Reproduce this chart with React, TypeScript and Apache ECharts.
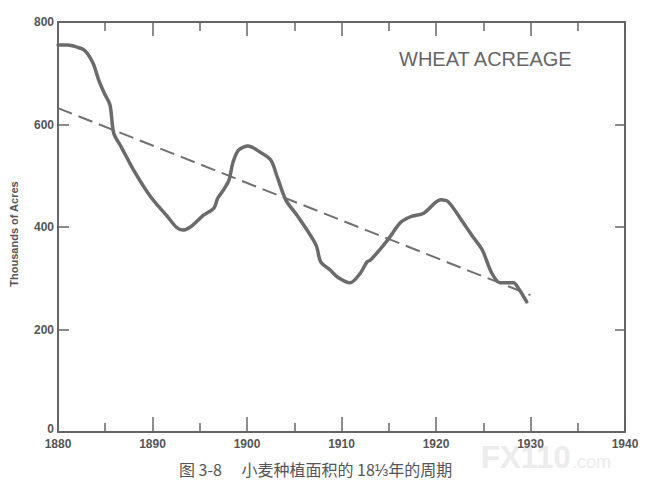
import React, { useEffect, useRef } from "react";
import * as echarts from "echarts";

const years: number[] = [
  1880.0, 1881.0, 1882.0, 1882.8, 1883.7, 1884.3, 1884.9, 1885.5, 1885.9, 1886.7,
  1888.0, 1889.8, 1891.6, 1892.5, 1893.2, 1894.0, 1895.4, 1896.5, 1896.9, 1897.5,
  1898.1, 1898.5, 1899.1, 1900.1, 1901.4, 1902.5, 1903.2, 1904.1, 1905.4, 1907.3,
  1907.8, 1908.8, 1909.6, 1910.9, 1912.0, 1912.7, 1913.1, 1914.9, 1916.2, 1917.3,
  1918.7, 1920.5, 1921.3, 1922.9, 1923.9, 1924.9, 1925.9, 1926.8, 1928.2, 1928.7,
  1929.6,
];
const acreage: number[] = [
  755, 755, 751, 745, 720, 687, 661, 638, 583, 556,
  511, 459, 420, 400, 394, 400, 423, 437, 456, 472,
  492, 525, 550, 558, 546, 531, 498, 453, 420, 365,
  332, 316, 302, 291, 310, 332, 336, 375, 408, 420,
  427, 453, 449, 408, 381, 355, 310, 291, 291, 281,
  254,
];
const trendYears: number[] = [1880, 1930];
const trendValues: number[] = [632, 267];

const titleText = "WHEAT ACREAGE";
const yAxisName = "Thousands of Acres";
const caption = "图 3-8　 小麦种植面积的 18⅓年的周期";
const watermarkMain = "FX110";
const watermarkTail = ".com";

export default function App() {
  const ref = useRef<HTMLDivElement | null>(null);
  useEffect(() => {
    if (!ref.current) return;
    const chart = echarts.init(ref.current, undefined, { renderer: "svg" });
    const axisColor = "#666";
    const font = "'Liberation Sans', Arial, sans-serif";
    const labelStyle = {
      color: "#555",
      fontWeight: "bold" as const,
      fontSize: 12,
      fontFamily: font,
    };
    chart.setOption({
      animation: false,
      backgroundColor: "#fff",
      grid: { left: 57, right: 23, top: 22, bottom: 70 },
      title: {
        text: titleText,
        left: 399,
        top: 49,
        padding: 0,
        textStyle: {
          color: "#666",
          fontSize: 20,
          fontWeight: "normal",
          fontFamily: font,
        },
      },
      xAxis: [
        {
          type: "value",
          position: "bottom",
          min: 1880,
          max: 1940,
          interval: 10,
          axisLine: { show: true, onZero: false, lineStyle: { color: axisColor, width: 2 } },
          axisTick: { show: true, inside: true, length: 15, lineStyle: { color: axisColor, width: 1.5 } },
          minorTick: { show: true, splitNumber: 2, length: 9, lineStyle: { color: axisColor, width: 1.5 } },
          axisLabel: { ...labelStyle, margin: 6, formatter: (v: number) => String(v) },
          splitLine: { show: false },
        },
        {
          type: "value",
          position: "top",
          min: 1880,
          max: 1940,
          interval: 10,
          axisLine: { show: true, onZero: false, lineStyle: { color: axisColor, width: 2 } },
          axisTick: { show: true, inside: true, length: 14, lineStyle: { color: axisColor, width: 1.5 } },
          minorTick: { show: true, splitNumber: 2, length: 9, lineStyle: { color: axisColor, width: 1.5 } },
          axisLabel: { show: false },
          splitLine: { show: false },
        },
      ],
      yAxis: [
        {
          type: "value",
          position: "left",
          min: 0,
          max: 800,
          interval: 200,
          name: yAxisName,
          nameLocation: "middle",
          nameGap: 39,
          nameTextStyle: {
            color: "#555",
            fontWeight: "bold",
            fontSize: 11,
            fontFamily: font,
            padding: [0, 14, 0, 0],
          },
          axisLine: { show: true, onZero: false, lineStyle: { color: axisColor, width: 2 } },
          axisTick: { show: true, inside: true, length: 11, lineStyle: { color: axisColor, width: 1.5 } },
          axisLabel: {
            ...labelStyle,
            margin: 4,
            formatter: (v: number) => (v === 0 ? "{z|0}" : String(v)),
            rich: { z: { ...labelStyle, padding: [0, 0, 7, 0] } },
          },
          splitLine: { show: false },
        },
        {
          type: "value",
          position: "right",
          min: 0,
          max: 800,
          interval: 200,
          axisLine: { show: true, onZero: false, lineStyle: { color: axisColor, width: 2 } },
          axisTick: { show: true, inside: true, length: 10, lineStyle: { color: axisColor, width: 1.5 } },
          axisLabel: { show: false },
          splitLine: { show: false },
        },
      ],
      graphic: [
        {
          type: "text",
          left: 481,
          top: 442,
          z: -1,
          style: {
            text: watermarkMain,
            fill: "#ececec",
            fontSize: 31,
            fontWeight: "bold",
            fontFamily: font,
          },
        },
        {
          type: "text",
          left: 572,
          top: 453,
          z: -1,
          style: {
            text: watermarkTail,
            fill: "#ececec",
            fontSize: 18,
            fontFamily: font,
          },
        },
        {
          type: "text",
          left: 179,
          top: 461,
          style: {
            text: caption,
            fill: "#555",
            fontSize: 16,
            fontFamily: "'Noto Sans CJK SC', sans-serif",
          },
        },
      ],
      series: [
        {
          type: "line",
          xAxisIndex: 0,
          yAxisIndex: 0,
          data: years.map((y, i) => [y, acreage[i]]),
          smooth: 0.3,
          showSymbol: false,
          lineStyle: { color: "#6b6b6b", width: 3.5, cap: "round", join: "round" },
          z: 3,
        },
        {
          type: "line",
          xAxisIndex: 0,
          yAxisIndex: 0,
          data: trendYears.map((y, i) => [y, trendValues[i]]),
          showSymbol: false,
          lineStyle: { color: "#707070", width: 2, type: [15, 7] },
          z: 2,
        },
      ],
    });
    return () => chart.dispose();
  }, []);
  return (
    <div
      ref={ref}
      style={{ position: "fixed", left: 0, top: 0, width: 648, height: 502 }}
    />
  );
}
